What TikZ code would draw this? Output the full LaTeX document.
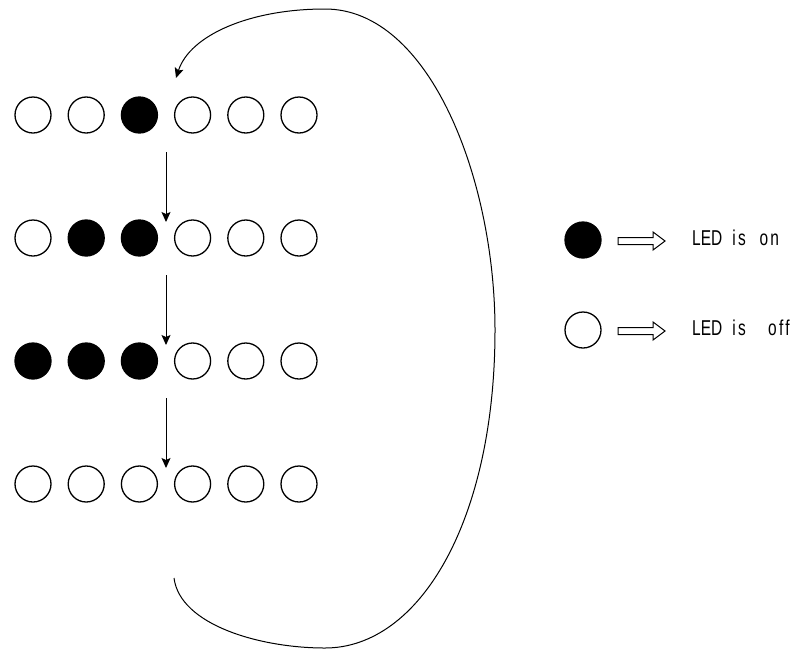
\documentclass[tikz,border=0pt]{standalone}
\usepackage{fontspec}
\setmainfont{Liberation Sans}
\usetikzlibrary{arrows.meta,calc}
\newcommand{\wideword}[1]{{\addfontfeature{LetterSpace=15}#1}}
\begin{document}
\begin{tikzpicture}[x=1pt,y=-1pt,
  led/.style={circle,draw=black,line width=1.3pt,minimum size=36pt,inner sep=0pt},
  ledon/.style={led,fill=black},
  ledoff/.style={led,fill=white},
  flow/.style={line width=1pt,-{Stealth[length=10pt,width=9pt,inset=2pt]}},
  legtext/.style={anchor=base west,inner sep=0pt,font=\fontsize{21.5}{21.5}\selectfont,xscale=0.72},
  hollow/.style={line width=1pt,fill=white}]
\useasboundingbox (0,0) rectangle (802,651);
% rows
\foreach \r/\y/\states in {1/115/{0,0,1,0,0,0},2/238/{0,1,1,0,0,0},3/361/{1,1,1,0,0,0},4/484/{0,0,0,0,0,0}}{
  \foreach \s [count=\c] in \states {
    \pgfmathsetmacro{\xx}{33+53.2*(\c-1)}
    \ifnum\s=1
      \node[ledon] (r\r c\c) at (\xx,\y) {};
    \else
      \node[ledoff] (r\r c\c) at (\xx,\y) {};
    \fi
  }
}
% vertical arrows between rows
\coordinate (a1s) at ($(r1c3)!0.5!(r1c4)+(0,37)$);
\coordinate (a1e) at ($(r2c3)!0.5!(r2c4)+(0,-16)$);
\coordinate (a2s) at ($(r2c3)!0.5!(r2c4)+(0,37)$);
\coordinate (a2e) at ($(r3c3)!0.5!(r3c4)+(0,-16)$);
\coordinate (a3s) at ($(r3c3)!0.5!(r3c4)+(0,37)$);
\coordinate (a3e) at ($(r4c3)!0.5!(r4c4)+(0,-16)$);
\draw[flow] (a1s) -- (a1e);
\draw[flow] (a2s) -- (a2e);
\draw[flow] (a3s) -- (a3e);
% loop back
\coordinate (ls) at (174,578);
\coordinate (le) at (176,78);
\draw[flow] (ls) .. controls (180,625) and (260,648) .. (325,648)
  .. controls (420,648) and (495,520) .. (495,330)
  .. controls (495,180) and (430,9) .. (325,9)
  .. controls (250,9) and (190,35) .. (le);
% legend
\node[ledon] (lon) at (583,240) {};
\node[ledoff] (loff) at (583,330) {};
\foreach \n/\y in {ia/241,ib/331}{
  \draw[hollow] (618,\y-3.5) -- (653,\y-3.5) -- (653,\y-9) -- (665,\y) -- (653,\y+9) -- (653,\y+3.5) -- (618,\y+3.5) -- cycle;
}
\node[legtext] (ton) at (692,245) {LED\hspace{14pt}\wideword{is}\hspace{19pt}\wideword{on}};
\node[legtext] (toff) at (692,335) {LED\hspace{14pt}\wideword{is}\hspace{31pt}\wideword{off}};
\end{tikzpicture}
\end{document}
